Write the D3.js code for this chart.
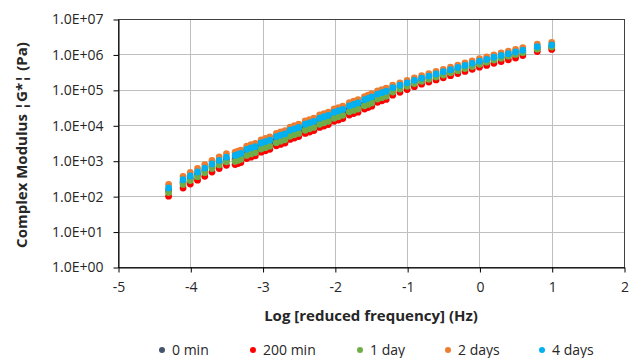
<!DOCTYPE html>
<html>
<head>
<meta charset="utf-8">
<script src="https://cdn.jsdelivr.net/npm/d3@7"></script>
<style>
  html, body { margin: 0; padding: 0; background: #fff; }
  svg { display: block; font-family: 'Open Sans', 'Noto Sans', sans-serif; }
</style>
</head>
<body>
<div id="chart"></div>
<script>
// log of reduced frequency (Hz) - master curve points
const logFreq = [
  -4.3, -4.1, -4.0, -3.9, -3.8, -3.7, -3.6, -3.5,
  -3.38, -3.34, -3.30, -3.22, -3.16, -3.10, -3.02, -2.96, -2.90, -2.81, -2.75, -2.69,
  -2.62, -2.56, -2.50, -2.41, -2.35, -2.29, -2.21, -2.15, -2.09, -2.01, -1.95, -1.89,
  -1.80, -1.74, -1.68, -1.59, -1.54, -1.49, -1.41, -1.35, -1.29,
  -1.2, -1.1, -1.0, -0.9, -0.8, -0.7, -0.6, -0.5, -0.4, -0.3, -0.2, -0.1,
  0.0, 0.1, 0.2, 0.3, 0.4, 0.5, 0.6, 0.8, 1.0
];

// complex modulus |G*| (Pa) per ageing time
const gStar0min = [
  145, 245, 316, 407, 525, 692, 871, 1070,
  1120, 1200, 1290, 1660, 1820, 2000, 2510, 2750, 3020, 3800, 4170, 4570,
  5750, 6310, 6920, 8510, 9330, 10200, 12600, 13800, 15100, 18600, 20400, 22400,
  28200, 30900, 33900, 41700, 45700, 50100, 63100, 69200, 75900,
  102000, 120000, 141000, 166000, 191000, 219000, 251000, 288000, 331000, 380000, 437000, 501000,
  575000, 646000, 741000, 832000, 933000, 1050000, 1170000, 1480000, 1660000
];
const gStar200min = [
  100, 170, 219, 282, 363, 479, 603, 741,
  776, 832, 891, 1150, 1260, 1380, 1740, 1910, 2090, 2630, 2880, 3160,
  3980, 4370, 4790, 5890, 6460, 7080, 8710, 9550, 10500, 12900, 14100, 15500,
  19500, 21400, 23400, 28800, 31600, 34700, 44700, 49000, 53700,
  70800, 85100, 102000, 123000, 145000, 166000, 191000, 219000, 251000, 288000, 331000, 380000,
  437000, 490000, 562000, 631000, 708000, 794000, 933000, 1200000, 1380000
];
const gStar1day = [
  126, 214, 275, 355, 457, 603, 759, 933,
  955, 1020, 1100, 1410, 1550, 1700, 2140, 2340, 2570, 3240, 3550, 3890,
  4900, 5370, 5890, 7240, 7940, 8710, 10700, 11700, 12900, 15800, 17400, 19100,
  24000, 26300, 28800, 35500, 38900, 42700, 55000, 60300, 66100,
  87100, 105000, 126000, 151000, 174000, 200000, 229000, 263000, 302000, 347000, 398000, 457000,
  525000, 603000, 692000, 776000, 891000, 1000000, 1120000, 1410000, 1620000
];
const gStar2days = [
  214, 363, 468, 603, 776, 1020, 1290, 1580,
  1740, 1860, 2000, 2570, 2820, 3090, 3890, 4270, 4680, 5890, 6460, 7080,
  8910, 9770, 10700, 13200, 14500, 15800, 19500, 21400, 23400, 28800, 31600, 34700,
  43700, 47900, 52500, 64600, 70800, 77600, 93300, 102000, 112000,
  135000, 158000, 186000, 219000, 251000, 288000, 331000, 380000, 437000, 501000, 575000, 661000,
  759000, 851000, 977000, 1100000, 1230000, 1380000, 1550000, 1950000, 2190000
];
const gStar4days = [
  170, 290, 370, 480, 620, 810, 1020, 1260,
  1410, 1510, 1620, 2090, 2290, 2510, 3160, 3470, 3800, 4790, 5250, 5750,
  7240, 7940, 8710, 10700, 11700, 12900, 15800, 17400, 19100, 23400, 25700, 28200,
  35500, 38900, 42700, 52500, 57500, 63100, 75900, 83200, 91200,
  115000, 135000, 158000, 186000, 214000, 245000, 282000, 324000, 372000, 427000, 490000, 562000,
  646000, 724000, 832000, 933000, 1050000, 1170000, 1320000, 1660000, 1860000
];

const seriesNames = ['0 min', '200 min', '1 day', '2 days', '4 days'];
const seriesColors = ['#44546A', '#FF0000', '#70AD47', '#ED7D31', '#00B0F0'];
const xTickValues = [-5, -4, -3, -2, -1, 0, 1, 2];
const yTickValues = [1e0, 1e1, 1e2, 1e3, 1e4, 1e5, 1e6, 1e7];

const WIDTH = 629;
const HEIGHT = 358;
const plot = { left: 118, right: 624, top: 19, bottom: 267 };

const seriesValues = [gStar0min, gStar200min, gStar1day, gStar2days, gStar4days];
const series = seriesNames.map((name, i) => ({
  name,
  color: seriesColors[i],
  points: logFreq.map((f, j) => ({ f, g: seriesValues[i][j] }))
}));

const svg = d3.select('#chart')
  .append('svg')
  .attr('width', WIDTH)
  .attr('height', HEIGHT);

const x = d3.scaleLinear().domain([-5, 2]).range([plot.left, plot.right]);
const y = d3.scaleLog().domain([1, 1e7]).range([plot.bottom, plot.top]);

// Excel style scientific labels, e.g. 1.0E+07
const sciFormat = d => {
  const e = Math.round(Math.log10(d));
  const m = d / Math.pow(10, e);
  return m.toFixed(1) + 'E' + (e < 0 ? '-' : '+') + String(Math.abs(e)).padStart(2, '0');
};

// gridlines
const grid = svg.append('g').attr('stroke', '#BFBFBF').attr('stroke-width', 1);
grid.selectAll('line.h')
  .data(yTickValues)
  .join('line')
  .attr('class', 'h')
  .attr('x1', plot.left).attr('x2', plot.right)
  .attr('y1', d => Math.round(y(d)) + 0.5).attr('y2', d => Math.round(y(d)) + 0.5);
grid.selectAll('line.v')
  .data(xTickValues)
  .join('line')
  .attr('class', 'v')
  .attr('x1', d => Math.round(x(d)) + 0.5).attr('x2', d => Math.round(x(d)) + 0.5)
  .attr('y1', plot.top).attr('y2', plot.bottom);

// plot border
svg.append('rect')
  .attr('x', plot.left + 0.5).attr('y', plot.top + 0.5)
  .attr('width', plot.right - plot.left).attr('height', plot.bottom - plot.top)
  .attr('fill', 'none')
  .attr('stroke', '#404040');

// axes
const xAxis = svg.append('g')
  .attr('transform', `translate(0.5,${Math.round(plot.bottom) + 0.5})`)
  .call(d3.axisBottom(x).tickValues(xTickValues).tickFormat(d => String(d)).tickSize(5).tickPadding(10).tickSizeOuter(0));

const yAxis = svg.append('g')
  .attr('transform', `translate(${plot.left + 0.5},0.5)`)
  .call(d3.axisLeft(y).tickValues(yTickValues).tickFormat(sciFormat).tickSize(5).tickPadding(10).tickSizeOuter(0));

[xAxis, yAxis].forEach(a => {
  a.select('.domain').attr('stroke', '#000');
  a.selectAll('.tick line').attr('stroke', '#000');
  a.selectAll('.tick text')
    .attr('fill', '#262626')
    .style('font-size', '14px')
    .style('font-family', "'Open Sans', sans-serif");
});

// points
const marks = svg.append('g');
series.forEach(s => {
  marks.append('g')
    .selectAll('circle')
    .data(s.points)
    .join('circle')
    .attr('cx', d => x(d.f))
    .attr('cy', d => y(d.g))
    .attr('r', 3.4)
    .attr('fill', s.color);
});

// axis titles
svg.append('text')
  .attr('x', 371)
  .attr('y', 321)
  .attr('text-anchor', 'middle')
  .attr('fill', '#262626')
  .style('font-size', '15px')
  .style('font-weight', 'bold')
  .text('Log [reduced frequency] (Hz)');

svg.append('text')
  .attr('transform', `translate(27,145) rotate(-90)`)
  .attr('text-anchor', 'middle')
  .attr('fill', '#262626')
  .style('font-size', '15px')
  .style('font-weight', 'bold')
  .text('Complex Modulus ¦G*¦ (Pa)');

// legend
const legendX = [162, 253, 360, 448, 542];
const legend = svg.append('g')
  .selectAll('g')
  .data(series)
  .join('g')
  .attr('transform', (d, i) => `translate(${legendX[i]},350)`);
legend.append('circle')
  .attr('r', 3)
  .attr('fill', d => d.color);
legend.append('text')
  .attr('x', 10)
  .attr('y', 5)
  .attr('fill', '#262626')
  .style('font-size', '14px')
  .text(d => d.name);
</script>
</body>
</html>
